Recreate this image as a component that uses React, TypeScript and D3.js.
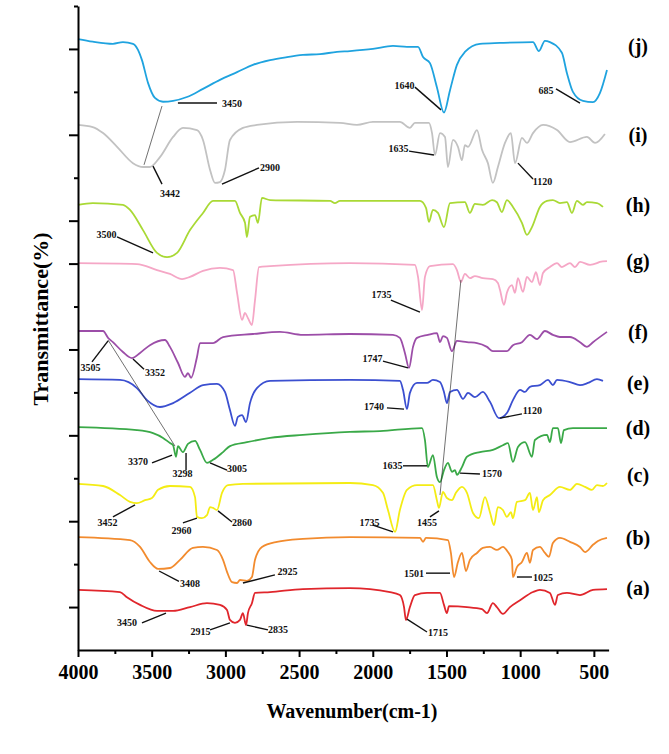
import React, { useRef, useEffect } from 'react';
import * as d3 from 'd3';

const W = 669;
const H = 754;
const FONT = "'Liberation Serif', 'Times New Roman', serif";

// axis ticks (wavenumber, cm-1) and transmittance tick levels (arbitrary units)
const xTicksMajor = [4000, 3500, 3000, 2500, 2000, 1500, 1000, 500];
const xTicksMinor = [3750, 3250, 2750, 2250, 1750, 1250, 750];
const yTicksLong = [10, 30, 50, 70, 90, 100, 120, 140];
const yTicksShort = [20, 40, 60, 80, 110, 130, 150];

const seriesNames = ['(a)', '(b)', '(c)', '(d)', '(e)', '(f)', '(g)', '(h)', '(i)', '(j)'];
const seriesColors = ['#e0262c', '#f28b2e', '#f4ec14', '#3aa948', '#3b4fd0', '#9c4ea8', '#f5a7c6', '#a9d935', '#c2c2c2', '#1fa3df'];
const labelLevels = [14.0, 25.6, 40.3, 51.2, 61.7, 73.6, 90.1, 103.2, 119.5, 140.2];

// spectra: [wavenumber, transmittance (offset, a.u.)]
const specA: [number, number][] = [
  [4000, 14.0], [3715, 13.5], [3668, 12.3], [3579, 10.5], [3464, 9.1], [3355, 9.1], [3240, 10.0], [3125, 10.9],
  [3037, 10.5], [2989, 9.3], [2969, 7.0], [2935, 6.3], [2901, 7.0], [2881, 8.6], [2860, 5.8], [2847, 8.6],
  [2820, 10.9], [2799, 13.3], [2697, 13.5], [2474, 14.2], [2155, 14.4], [1883, 13.5], [1816, 12.8], [1788, 10.0],
  [1775, 7.0], [1748, 10.0], [1714, 12.8], [1632, 13.3], [1544, 13.3], [1517, 10.5], [1497, 8.6], [1483, 10.2],
  [1361, 10.0], [1259, 9.5], [1225, 8.6], [1185, 10.9], [1158, 10.0], [1117, 8.4], [1069, 10.0], [1001, 11.6],
  [913, 13.5], [866, 14.0], [798, 13.3], [764, 10.5], [744, 12.8], [683, 13.3], [594, 12.8], [506, 14.0], [411, 14.2],
];

const specB: [number, number][] = [
  [4000, 26.3], [3647, 25.6], [3579, 24.0], [3512, 20.5], [3457, 18.9], [3376, 19.1], [3308, 21.0], [3220, 23.8],
  [3152, 24.0], [3057, 23.3], [3016, 21.0], [2989, 18.2], [2955, 15.8], [2921, 15.6], [2901, 16.3], [2854, 16.1],
  [2820, 17.0], [2799, 21.0], [2752, 24.0], [2650, 25.2], [2474, 25.9], [2155, 26.3], [1680, 26.1], [1659, 25.2],
  [1639, 26.1], [1490, 25.6], [1470, 22.6], [1449, 17.0], [1422, 20.5], [1395, 22.6], [1368, 18.4], [1341, 21.0],
  [1293, 22.6], [1253, 23.8], [1205, 24.0], [1158, 23.3], [1117, 24.0], [1083, 22.8], [1056, 21.0], [1049, 17.0],
  [1022, 19.3], [988, 20.5], [954, 22.6], [934, 20.3], [913, 23.3], [866, 24.0], [832, 22.6], [805, 21.7],
  [778, 24.9], [730, 26.1], [662, 25.2], [594, 24.0], [560, 22.8], [506, 24.5], [472, 25.4], [411, 26.1],
];

const specC: [number, number][] = [
  [4000, 38.7], [3830, 38.2], [3715, 36.1], [3647, 34.5], [3600, 34.2], [3545, 34.9], [3498, 35.4], [3457, 37.3],
  [3376, 38.2], [3240, 38.0], [3206, 35.6], [3193, 31.0], [3159, 30.7], [3125, 31.4], [3104, 33.3], [3084, 33.1],
  [3057, 32.6], [3023, 36.6], [2982, 38.4], [2881, 38.7], [2155, 38.9], [1999, 38.4], [1931, 36.6], [1897, 32.6],
  [1849, 27.5], [1816, 32.6], [1768, 37.3], [1700, 38.4], [1592, 38.4], [1565, 34.9], [1551, 33.1], [1524, 36.8],
  [1497, 35.4], [1463, 34.9], [1436, 36.6], [1395, 38.0], [1361, 36.6], [1320, 31.9], [1280, 30.7], [1239, 35.6],
  [1205, 32.1], [1178, 29.1], [1151, 33.3], [1117, 32.6], [1090, 31.0], [1063, 32.1], [1049, 30.7], [1022, 34.5],
  [967, 34.9], [934, 36.6], [913, 32.6], [886, 35.6], [873, 32.1], [845, 34.9], [798, 36.1], [730, 38.0],
  [662, 37.3], [615, 38.7], [560, 38.0], [513, 37.3], [479, 38.4], [438, 38.2], [411, 38.9],
];

const specD: [number, number][] = [
  [4000, 51.9], [3600, 51.2], [3491, 50.5], [3423, 49.4], [3376, 48.2], [3355, 47.7], [3335, 45.0], [3322, 47.5],
  [3288, 46.1], [3254, 48.0], [3206, 48.7], [3172, 46.6], [3125, 43.6], [3084, 44.3], [3016, 46.1], [2969, 47.5],
  [2854, 48.4], [2697, 49.4], [2474, 50.1], [2155, 50.8], [1951, 51.0], [1666, 51.7], [1646, 48.9], [1626, 42.6],
  [1592, 45.4], [1565, 40.3], [1544, 39.1], [1517, 41.9], [1490, 43.6], [1463, 41.5], [1442, 41.9], [1429, 40.8],
  [1395, 42.6], [1361, 45.0], [1273, 46.1], [1185, 46.6], [1117, 47.7], [1083, 48.2], [1049, 43.8], [1015, 47.3],
  [967, 48.4], [920, 45.0], [900, 48.9], [818, 50.1], [798, 48.4], [778, 51.7], [744, 51.7], [723, 48.2],
  [703, 51.2], [642, 51.7], [411, 51.7],
];

const specE: [number, number][] = [
  [4000, 63.1], [3715, 62.9], [3600, 61.0], [3532, 58.2], [3444, 56.6], [3355, 57.5], [3240, 59.9], [3152, 61.7],
  [3057, 62.0], [3003, 60.1], [2969, 55.9], [2935, 52.2], [2915, 54.3], [2887, 54.7], [2860, 53.1], [2833, 57.5],
  [2786, 61.0], [2697, 62.7], [2155, 62.9], [1816, 62.7], [1795, 60.6], [1768, 56.1], [1748, 59.9], [1700, 62.2],
  [1632, 62.2], [1592, 62.9], [1544, 62.4], [1517, 60.1], [1497, 57.5], [1476, 60.1], [1429, 60.6], [1388, 58.5],
  [1354, 59.9], [1307, 58.9], [1253, 60.1], [1205, 57.8], [1144, 54.0], [1090, 55.2], [1049, 58.2], [1001, 60.6],
  [967, 60.1], [934, 61.3], [866, 61.7], [811, 62.9], [778, 61.7], [750, 62.9], [662, 62.4], [594, 61.7],
  [540, 62.2], [479, 63.1], [438, 62.7],
];

const specF: [number, number][] = [
  [4000, 74.3], [3830, 74.3], [3796, 72.7], [3763, 71.7], [3695, 69.4], [3634, 68.0], [3579, 69.2], [3512, 71.0],
  [3410, 72.2], [3376, 70.6], [3322, 66.9], [3274, 63.6], [3254, 64.5], [3233, 63.4], [3193, 68.2], [3172, 71.5],
  [3084, 71.5], [3016, 72.9], [2813, 73.6], [2630, 74.1], [2474, 73.4], [2155, 73.6], [1863, 73.4], [1816, 72.7],
  [1782, 69.2], [1754, 65.7], [1727, 70.6], [1700, 72.7], [1626, 73.4], [1565, 73.8], [1544, 71.7], [1524, 73.1],
  [1497, 72.7], [1463, 69.6], [1429, 72.0], [1361, 71.7], [1293, 71.5], [1225, 70.6], [1185, 69.6], [1090, 69.6],
  [1049, 71.0], [988, 71.7], [934, 73.4], [886, 72.4], [832, 74.3], [778, 73.4], [730, 72.9], [662, 72.9],
  [594, 71.7], [547, 70.6], [506, 71.7], [411, 74.1],
];

const specG: [number, number][] = [
  [4000, 90.1], [3600, 89.9], [3464, 88.5], [3376, 87.6], [3294, 86.4], [3240, 86.9], [3152, 88.3], [3037, 89.0],
  [2948, 88.5], [2921, 83.2], [2887, 76.9], [2867, 78.5], [2847, 77.3], [2820, 75.7], [2799, 81.5], [2772, 89.2],
  [2697, 89.4], [2155, 90.1], [1714, 89.7], [1693, 86.9], [1666, 79.2], [1646, 86.9], [1612, 89.4], [1456, 89.9],
  [1429, 88.5], [1402, 85.7], [1375, 87.6], [1341, 86.6], [1307, 87.1], [1253, 86.6], [1185, 86.4], [1151, 85.5],
  [1137, 83.9], [1110, 80.4], [1090, 83.2], [1056, 85.0], [1035, 83.2], [1015, 86.6], [981, 83.4], [954, 86.9],
  [920, 85.7], [893, 88.0], [866, 85.0], [845, 87.8], [798, 89.2], [750, 90.1], [717, 89.2], [662, 90.1],
  [628, 89.2], [594, 90.4], [526, 89.7], [479, 90.1], [459, 90.4], [411, 90.6],
];

const specH: [number, number][] = [
  [4000, 103.7], [3900, 104.1], [3695, 103.7], [3647, 102.5], [3559, 97.8], [3464, 92.5], [3396, 91.5], [3328, 92.5],
  [3240, 97.8], [3152, 101.8], [3084, 104.6], [2935, 104.6], [2901, 101.8], [2867, 99.5], [2854, 96.2], [2833, 100.9],
  [2799, 101.3], [2779, 99.5], [2752, 105.3], [2697, 104.8], [2290, 104.6], [2257, 104.1], [2223, 104.6], [1680, 104.6],
  [1639, 103.0], [1619, 99.7], [1592, 102.5], [1558, 101.8], [1517, 98.5], [1476, 104.1], [1375, 104.3], [1341, 101.8],
  [1307, 103.9], [1253, 103.7], [1191, 104.8], [1158, 104.3], [1124, 102.0], [1090, 104.8], [1049, 103.2], [988, 99.5],
  [954, 96.7], [920, 98.5], [866, 103.2], [818, 104.6], [778, 104.8], [730, 104.1], [683, 104.3], [649, 101.8],
  [615, 104.6], [574, 103.7], [547, 104.3], [479, 104.1], [438, 103.2],
];

const specI: [number, number][] = [
  [4000, 122.3], [3900, 121.8], [3830, 120.4], [3735, 117.2], [3627, 113.4], [3559, 112.5], [3512, 112.5], [3444, 114.8],
  [3355, 119.5], [3288, 121.6], [3193, 121.1], [3152, 118.8], [3104, 111.8], [3071, 108.8], [3037, 109.0], [3003, 111.8],
  [2969, 118.8], [2881, 121.6], [2786, 122.3], [2514, 123.0], [2223, 122.8], [2107, 122.3], [1999, 123.0], [1816, 123.0],
  [1748, 121.6], [1714, 122.8], [1619, 122.8], [1598, 120.4], [1578, 115.3], [1544, 120.4], [1510, 119.5], [1490, 112.5],
  [1456, 118.8], [1422, 117.2], [1395, 114.1], [1375, 117.6], [1354, 117.2], [1293, 121.1], [1259, 116.5], [1219, 113.4],
  [1185, 108.8], [1151, 112.5], [1103, 118.1], [1063, 120.4], [1035, 113.4], [988, 119.3], [954, 118.1], [913, 120.4],
  [845, 122.3], [750, 121.1], [662, 118.3], [547, 119.5], [492, 118.1], [425, 120.2],
];

const specJ: [number, number][] = [
  [4000, 142.3], [3900, 141.7], [3763, 141.2], [3695, 141.6], [3627, 141.2], [3593, 139.8], [3566, 137.4], [3525, 132.1],
  [3478, 128.6], [3423, 127.7], [3355, 127.9], [3261, 128.8], [3152, 130.7], [3037, 132.8], [2921, 134.6], [2813, 136.3],
  [2697, 137.4], [2582, 138.1], [2474, 138.6], [2358, 138.8], [2243, 139.3], [2155, 139.5], [1999, 140.0], [1863, 140.7],
  [1768, 140.5], [1693, 140.5], [1659, 138.1], [1612, 136.7], [1565, 131.1], [1517, 125.2], [1476, 130.4], [1429, 136.3],
  [1375, 139.3], [1273, 141.2], [1137, 141.4], [913, 141.6], [873, 139.5], [832, 141.9], [798, 141.6], [717, 139.1],
  [683, 134.4], [642, 130.0], [574, 127.9], [506, 127.6], [459, 129.7], [411, 135.1],
];

const spectra = [specA, specB, specC, specD, specE, specF, specG, specH, specI, specJ];

// peak annotations: [text, label wn, label T, leader from wn, T, to wn, T]
const peakLabels: [string, number, number, number, number, number, number][] = [
  ['3450', 2955, 127.4, 3322, 127.4, 3057, 127.4],
  ['1640', 1785, 131.4, 1714, 131.1, 1537, 125.8],
  ['685', 825, 130.4, 757, 130.7, 594, 127.4],
  ['3442', 3376, 106.4, 3491, 112.7, 3430, 108.5],
  ['2900', 2697, 112.3, 3023, 108.5, 2772, 112.3],
  ['1635', 1826, 116.7, 1754, 116.2, 1585, 115.3],
  ['1120', 849, 109.2, 1015, 113.4, 913, 109.7],
  ['3500', 3807, 96.7, 3735, 96.2, 3491, 92.5],
  ['1735', 1941, 82.9, 1877, 81.5, 1680, 78.7],
  ['3505', 3915, 65.7, 3905, 67.1, 3796, 72.0],
  ['3352', 3478, 64.7, 3627, 67.8, 3552, 65.4],
  ['1747', 2002, 67.8, 1931, 67.3, 1761, 65.7],
  ['1740', 1992, 56.6, 1904, 56.4, 1788, 56.1],
  ['1120', 917, 55.7, 1137, 54.0, 988, 55.0],
  ['3370', 3593, 44.0, 3498, 43.6, 3362, 45.4],
  ['3298', 3291, 41.0, 3267, 45.9, 3267, 41.9],
  ['3005', 2921, 42.2, 3104, 43.6, 2989, 41.9],
  ['1635', 1866, 42.9, 1795, 42.9, 1632, 42.9],
  ['1570', 1191, 41.0, 1408, 41.2, 1273, 41.0],
  ['3452', 3800, 29.8, 3763, 31.0, 3613, 33.8],
  ['2960', 3298, 27.9, 3288, 29.6, 3193, 30.7],
  ['2860', 2887, 29.6, 3050, 32.4, 2955, 29.8],
  ['1735', 2022, 29.8, 1999, 29.1, 1863, 27.5],
  ['1455', 1632, 29.8, 1612, 31.0, 1551, 32.4],
  ['3408', 3240, 15.6, 3450, 18.4, 3315, 16.0],
  ['2925', 2579, 18.4, 2881, 15.6, 2664, 17.5],
  ['1501', 1721, 17.9, 1639, 17.9, 1476, 17.9],
  ['1025', 845, 17.0, 1022, 17.0, 920, 17.0],
  ['3450', 3668, 6.3, 3566, 6.3, 3403, 8.6],
  ['2915', 3169, 4.2, 3104, 4.7, 2969, 6.3],
  ['2835', 2643, 4.7, 2854, 5.8, 2711, 4.7],
  ['1715', 1558, 4.0, 1768, 7.2, 1632, 4.2],
];

// thin guide lines linking shifted bands: [wn1, T1, wn2, T2]
const guideLines: [number, number, number, number][] = [
  [3430, 126.7, 3552, 113.0],
  [1402, 86.2, 1544, 36.1],
  [3796, 72.2, 3342, 47.5],
];

export default function App() {
  const ref = useRef<SVGSVGElement>(null);

  useEffect(() => {
    const svg = d3.select(ref.current);
    svg.selectAll('*').remove();

    const x = d3.scaleLinear().domain([4000, 400]).range([78, 608.6]);
    const y = d3.scaleLinear().domain([0, 150]).range([650, 6]);

    // spectra
    const line = d3.line<[number, number]>()
      .x(d => x(d[0]))
      .y(d => y(d[1]))
      .curve(d3.curveMonotoneX);

    svg.append('g')
      .selectAll('path')
      .data(spectra)
      .join('path')
      .attr('d', d => line(d))
      .attr('fill', 'none')
      .attr('stroke', (d, i) => seriesColors[i])
      .attr('stroke-width', 1.8)
      .attr('stroke-linejoin', 'round');

    // thin guides
    svg.append('g')
      .selectAll('line')
      .data(guideLines)
      .join('line')
      .attr('x1', d => x(d[0])).attr('y1', d => y(d[1]))
      .attr('x2', d => x(d[2])).attr('y2', d => y(d[3]))
      .attr('stroke', '#333')
      .attr('stroke-width', 0.7);

    // peak leaders + labels
    const pk = svg.append('g');
    pk.selectAll('line')
      .data(peakLabels)
      .join('line')
      .attr('x1', d => x(d[3])).attr('y1', d => y(d[4]))
      .attr('x2', d => x(d[5])).attr('y2', d => y(d[6]))
      .attr('stroke', '#111')
      .attr('stroke-width', 1.4);
    pk.selectAll('text')
      .data(peakLabels)
      .join('text')
      .attr('x', d => x(d[1]))
      .attr('y', d => y(d[2]) + 3.5)
      .attr('text-anchor', 'middle')
      .attr('font-family', FONT)
      .attr('font-weight', 'bold')
      .attr('font-size', 10)
      .attr('fill', '#111')
      .text(d => d[0]);

    // series labels at right
    svg.append('g')
      .selectAll('text')
      .data(seriesNames)
      .join('text')
      .attr('x', 638)
      .attr('y', (d, i) => y(labelLevels[i]) + 5)
      .attr('text-anchor', 'middle')
      .attr('font-family', FONT)
      .attr('font-weight', 'bold')
      .attr('font-size', 20)
      .text(d => d);

    // x axis
    const gx = svg.append('g').attr('transform', 'translate(0,650)');
    gx.call(d3.axisBottom(x).tickValues(xTicksMinor).tickSize(4).tickSizeOuter(0).tickFormat(() => ''));
    gx.call(g => g.select('.domain').remove());
    const gx2 = svg.append('g').attr('transform', 'translate(0,650)');
    gx2.call(d3.axisBottom(x).tickValues(xTicksMajor).tickSize(7).tickSizeOuter(0).tickPadding(8)
      .tickFormat(d => String(d)));
    svg.selectAll('.tick line').attr('stroke', '#000').attr('stroke-width', 2);
    gx2.select('.domain').attr('stroke', '#000').attr('stroke-width', 2);
    gx2.selectAll('text')
      .attr('font-family', FONT)
      .attr('font-weight', 'bold')
      .attr('font-size', 20)
      .attr('fill', '#000');

    // y axis
    const gy = svg.append('g').attr('transform', 'translate(78,0)');
    gy.call(d3.axisLeft(y).tickValues(yTicksShort).tickSize(4).tickSizeOuter(0).tickFormat(() => ''));
    gy.call(g => g.select('.domain').remove());
    const gy2 = svg.append('g').attr('transform', 'translate(78,0)');
    gy2.call(d3.axisLeft(y).tickValues(yTicksLong).tickSize(9).tickSizeOuter(0).tickFormat(() => ''));
    gy.selectAll('.tick line').attr('stroke', '#000').attr('stroke-width', 2);
    gy2.selectAll('.tick line').attr('stroke', '#000').attr('stroke-width', 2);
    gy2.select('.domain').attr('stroke', '#000').attr('stroke-width', 2);

    // titles
    svg.append('text')
      .attr('x', 352)
      .attr('y', 718)
      .attr('text-anchor', 'middle')
      .attr('font-family', FONT)
      .attr('font-weight', 'bold')
      .attr('font-size', 20)
      .text('Wavenumber(cm-1)');

    svg.append('text')
      .attr('transform', 'translate(48,319) rotate(-90)')
      .attr('text-anchor', 'middle')
      .attr('font-family', FONT)
      .attr('font-weight', 'bold')
      .attr('font-size', 22)
      .text('Transmittance(%)');

    return () => {
      svg.selectAll('*').remove();
    };
  }, []);

  return (
    <svg
      ref={ref}
      width={W}
      height={H}
      style={{ position: 'absolute', left: 0, top: 0, background: '#fff' }}
    />
  );
}
